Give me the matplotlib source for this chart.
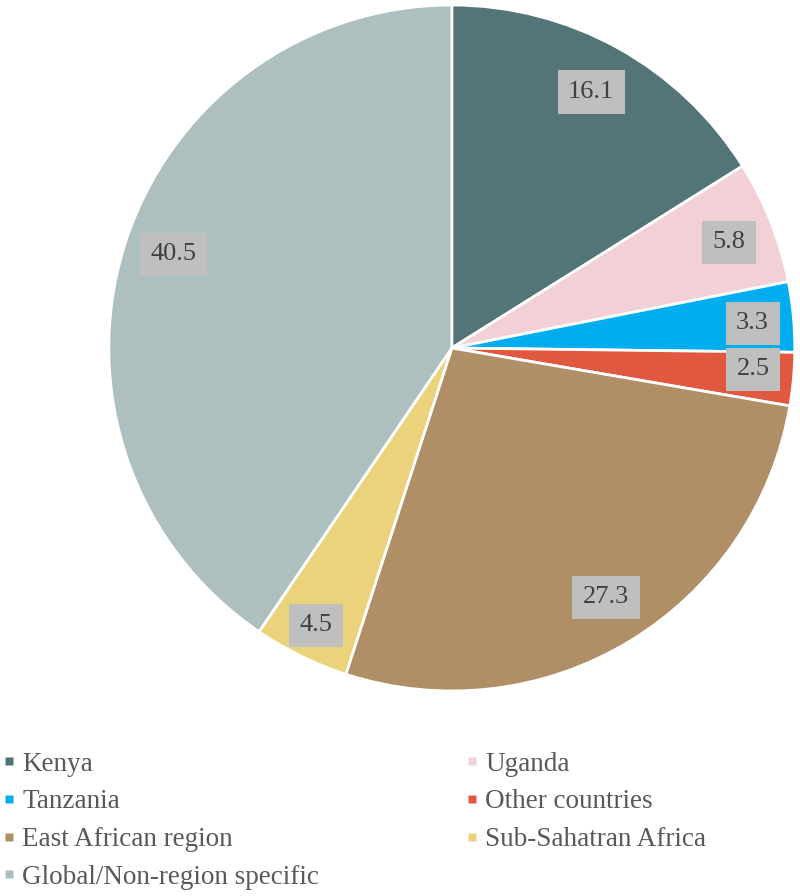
import numpy as np
import matplotlib.pyplot as plt
from matplotlib.lines import Line2D

labels = ["Kenya", "Uganda", "Tanzania", "Other countries", "East African region",
          "Sub-Sahatran Africa", "Global/Non-region specific"]
values = [16.1, 5.8, 3.3, 2.5, 27.3, 4.5, 40.5]
colors = ["#537577", "#F3CFD6", "#00AEEF", "#E0583F", "#B08F66", "#EAD37A", "#ADBFBF"]

plt.rcParams['font.family'] = ['Liberation Serif', 'DejaVu Serif']

fig = plt.figure(figsize=(8, 8.96), dpi=100)
ax = fig.add_axes([0.136, 0.2288, 0.8575, 0.7656])

wedges, texts, autotexts = ax.pie(
    values, colors=colors, startangle=90, counterclock=False, radius=1,
    autopct=lambda p: "%.1f" % p, pctdistance=0.87,
    wedgeprops=dict(edgecolor="white", linewidth=2.0),
    textprops=dict(fontsize=19, color="#404040"))

# label placement (radial distance, small angular nudge in degrees)
label_dist = [0.85, 0.865, 0.88, 0.88, 0.855, 0.90, 0.855]
label_nudge = [0.4, -0.7, -0.5, 1.2, 0.6, 0, -1.5]
for w, t, d, n in zip(wedges, autotexts, label_dist, label_nudge):
    a = np.deg2rad((w.theta1 + w.theta2) / 2 + n)
    t.set_position((d * np.cos(a), d * np.sin(a)))
    t.set_bbox(dict(facecolor="#BFBFBF", edgecolor="none", boxstyle="square,pad=0.4"))
ax.set_xlim(-1, 1)
ax.set_ylim(-1, 1)
ax.set_aspect("equal")
ax.axis("off")

order = [0, 2, 4, 6, 1, 3, 5]
handles = [Line2D([], [], marker="s", linestyle="none", markersize=5.8,
                  markerfacecolor=colors[i], markeredgecolor="none") for i in order]
leg = fig.legend(handles, [labels[i] for i in order], loc="upper left",
                 bbox_to_anchor=(0.0025, 0.161), ncol=2, frameon=False,
                 fontsize=19.5, handlelength=0.5, handletextpad=0.24,
                 labelspacing=0.47, columnspacing=5.4, borderaxespad=0, borderpad=0)
for t in leg.get_texts():
    t.set_color("#595959")

fig.savefig("out.png", dpi=100)
